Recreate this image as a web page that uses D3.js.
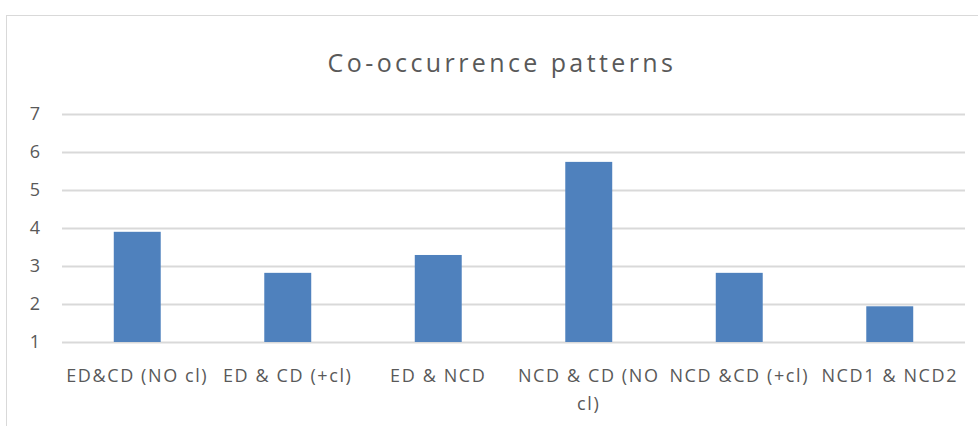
<!DOCTYPE html>
<html>
<head>
<meta charset="utf-8">
<script src="https://cdn.jsdelivr.net/npm/d3@7"></script>
<style>
  body { margin: 0; background: #fff; }
  text { font-family: "Open Sans", "Noto Sans", sans-serif; fill: #595959; }
</style>
</head>
<body>
<div id="chart"></div>
<script>
const categories = ['ED&CD (NO cl)', 'ED & CD (+cl)', 'ED & NCD', 'NCD & CD (NO cl)', 'NCD &CD (+cl)', 'NCD1 & NCD2'];
const values = [3.9, 2.82, 3.29, 5.74, 2.82, 1.94];
const yTicks = [1, 2, 3, 4, 5, 6, 7];
const title = 'Co-occurrence patterns';

const WIDTH = 978;
const HEIGHT = 426;
const PLOT_LEFT = 62;
const PLOT_RIGHT = 965;
const PLOT_TOP = 114;
const PLOT_BOTTOM = 342;

const svg = d3.select('#chart')
  .append('svg')
  .attr('width', WIDTH)
  .attr('height', HEIGHT);

// chart frame, runs off the right and bottom edges like the screenshot
svg.append('rect')
  .attr('x', 6.5)
  .attr('y', 15.5)
  .attr('width', 1000)
  .attr('height', 500)
  .attr('fill', '#fff')
  .attr('stroke', '#d9d9d9');

svg.append('text')
  .attr('x', 502)
  .attr('y', 72)
  .attr('text-anchor', 'middle')
  .style('font-size', '25px')
  .style('letter-spacing', '3.4px')
  .text(title);

const x = d3.scaleBand()
  .domain(categories)
  .range([PLOT_LEFT, PLOT_RIGHT])
  .paddingInner(0.688)
  .paddingOuter(0.344);

const y = d3.scaleLinear()
  .domain([1, 7])
  .range([PLOT_BOTTOM, PLOT_TOP]);

const yAxis = d3.axisLeft(y)
  .tickValues(yTicks)
  .tickFormat(d3.format('d'))
  .tickSize(-(PLOT_RIGHT - PLOT_LEFT))
  .tickPadding(22);

const gy = svg.append('g')
  .attr('transform', `translate(${PLOT_LEFT},0)`)
  .call(yAxis);
gy.select('.domain').remove();
gy.selectAll('line').attr('stroke', '#d9d9d9').attr('stroke-width', 2);
gy.selectAll('text').style('font-size', '18px').attr('fill', '#595959');

svg.append('g')
  .selectAll('rect')
  .data(values)
  .join('rect')
  .attr('x', (d, i) => x(categories[i]))
  .attr('width', x.bandwidth())
  .attr('y', d => y(d))
  .attr('height', d => y(1) - y(d))
  .attr('fill', '#4f81bd');

const xAxis = d3.axisBottom(x).tickSize(0);
const gx = svg.append('g')
  .attr('transform', `translate(0,${PLOT_BOTTOM})`)
  .call(xAxis);
gx.select('.domain').remove();
gx.selectAll('text')
  .style('font-size', '18px')
  .style('letter-spacing', '1.6px')
  .attr('fill', '#595959')
  .attr('y', 40)
  .attr('dy', 0)
  .call(wrap, x.step());

function wrap(texts, width) {
  texts.each(function() {
    const t = d3.select(this);
    const words = t.text().split(/\s+/);
    let line = [];
    let tspan = t.text(null).append('tspan').attr('x', 0).attr('y', 40);
    let n = 0;
    words.forEach(w => {
      line.push(w);
      tspan.text(line.join(' '));
      if (tspan.node().getComputedTextLength() > width && line.length > 1) {
        line.pop();
        tspan.text(line.join(' '));
        line = [w];
        n++;
        tspan = t.append('tspan').attr('x', 0).attr('y', 40 + n * 28).text(w);
      }
    });
  });
}
</script>
</body>
</html>
